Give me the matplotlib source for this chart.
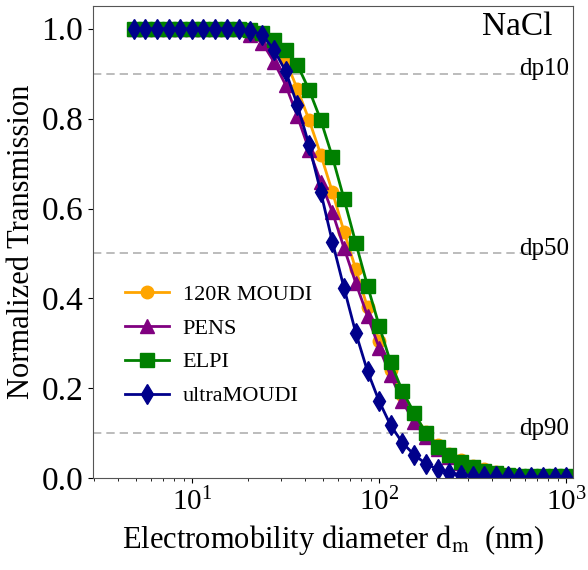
import matplotlib
matplotlib.use("Agg")
import matplotlib.pyplot as plt

plt.rcParams['font.family'] = ['Liberation Serif', 'DejaVu Serif']
plt.rcParams['mathtext.fontset'] = 'stix'

# particle diameter (nm), 16 channels per decade
dm = [4.87, 5.62, 6.49, 7.50, 8.66, 10.0, 11.5, 13.3, 15.4, 17.8,
      20.5, 23.7, 27.4, 31.6, 36.5, 42.2, 48.7, 56.2, 64.9, 75.0,
      86.6, 100, 115, 133, 154, 178, 205, 237, 274, 316,
      365, 422, 487, 562, 649, 750, 866, 1000]

moudi120 = [1.0, 1.0, 1.0, 1.0, 1.0, 1.0, 1.0, 1.0, 1.0, 1.0,
            0.998, 0.99, 0.97, 0.93, 0.866, 0.797, 0.72, 0.637, 0.548, 0.465,
            0.38, 0.305, 0.24, 0.185, 0.14, 0.103, 0.075, 0.055, 0.04, 0.028,
            0.02, 0.014, 0.01, 0.008, 0.006, 0.005, 0.004, 0.004]

pens = [1.0, 1.0, 1.0, 1.0, 1.0, 1.0, 1.0, 1.0, 1.0, 1.0,
        0.987, 0.969, 0.926, 0.875, 0.806, 0.73, 0.66, 0.592, 0.512, 0.434,
        0.361, 0.29, 0.229, 0.171, 0.124, 0.092, 0.066, 0.048, 0.034, 0.024,
        0.017, 0.012, 0.009, 0.007, 0.006, 0.005, 0.005, 0.005]

elpi = [1.0, 1.0, 1.0, 1.0, 1.0, 1.0, 1.0, 1.0, 1.0, 1.0,
        0.998, 0.99, 0.975, 0.953, 0.92, 0.864, 0.797, 0.715, 0.621, 0.523,
        0.428, 0.339, 0.258, 0.194, 0.145, 0.10, 0.069, 0.051, 0.036, 0.025,
        0.016, 0.011, 0.008, 0.006, 0.005, 0.004, 0.004, 0.004]

ultramoudi = [1.0, 1.0, 1.0, 1.0, 1.0, 1.0, 1.0, 1.0, 1.0, 1.0,
              0.995, 0.987, 0.953, 0.906, 0.831, 0.741, 0.637, 0.526, 0.423, 0.323,
              0.238, 0.171, 0.118, 0.079, 0.052, 0.032, 0.020, 0.012, 0.008, 0.006,
              0.005, 0.004, 0.004, 0.003, 0.003, 0.003, 0.003, 0.003]

cut_levels = [0.9, 0.5, 0.1]
cut_labels = ["dp10", "dp50", "dp90"]

fig = plt.figure(figsize=(5.88, 5.70), dpi=100)
ax = fig.add_axes([0.158, 0.161, 0.817, 0.828])

for lv in cut_levels:
    ax.axhline(lv, color="#b0b0b0", ls="--", lw=1.2, dashes=(5, 3), zorder=1)

ax.plot(dm, moudi120, color="#FFA500", marker="o", ms=9, lw=2, label="120R MOUDI")
ax.plot(dm, pens, color="#800080", marker="^", ms=9.5, lw=2, label="PENS")
ax.plot(dm, elpi, color="#008000", marker="s", ms=9.5, lw=2, label="ELPI")
ax.plot(dm, ultramoudi, color="#00008B", marker="d", ms=10.5, lw=2, label="ultraMOUDI")

ax.set_xscale("log")
ax.set_xlim(2.95, 1090)
ax.set_ylim(0, 1.05)
ax.set_yticks([0.0, 0.2, 0.4, 0.6, 0.8, 1.0])
ax.tick_params(axis="y", labelsize=24)
ax.tick_params(axis="x", labelsize=21)
for sp in ax.spines.values():
    sp.set_color("#555555")

for lv, lab in zip(cut_levels, cut_labels):
    ax.text(0.992, lv - 0.004, lab, ha="right", va="baseline", fontsize=18,
            transform=ax.get_yaxis_transform())
ax.text(0.956, 0.988, "NaCl", ha="right", va="top", fontsize=24, transform=ax.transAxes)

ax.set_xlabel(r"Electromobility diameter d$_\mathrm{m}$  (nm)", fontsize=22, labelpad=5)
ax.set_ylabel("Normalized Transmission", fontsize=22, labelpad=4)

ax.legend(loc="lower left", bbox_to_anchor=(0.025, 0.11), frameon=False, fontsize=16,
          handlelength=2.0, handletextpad=0.6, labelspacing=0.6)

fig.savefig("out.png", dpi=100)
